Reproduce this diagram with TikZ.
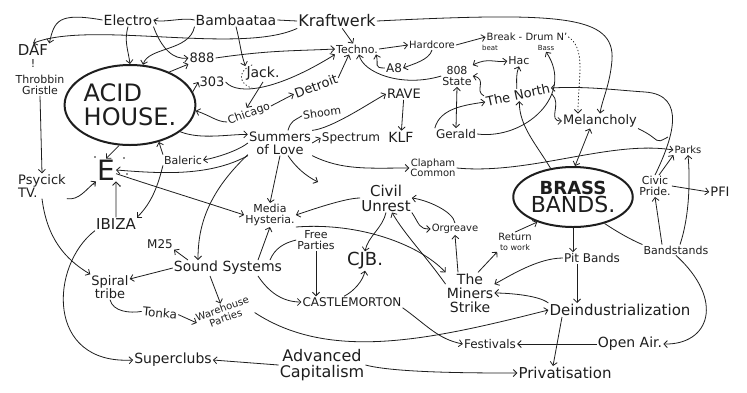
\documentclass[tikz,border=0pt]{standalone}
\usepackage{fontspec}
\setmainfont{DejaVu Sans}
\usetikzlibrary{arrows.meta,shapes.geometric}
\definecolor{ink}{HTML}{1E1E1E}
\begin{document}
\begin{tikzpicture}[x=1pt,y=-1pt,
 n/.style={inner sep=1pt,align=center,text=ink},
 fs/.style={font=\fontsize{#1}{#1}\selectfont},
 con/.style={draw=ink,line width=0.8pt},
 arr/.style={con,-{Straight Barb[length=3.5pt,width=7pt]}},
 darr/.style={con,{Straight Barb[length=3.5pt,width=7pt]}-{Straight Barb[length=3.5pt,width=7pt]}},
 dots/.style={dash pattern=on 0.8pt off 2.5pt,line cap=round},
 blob/.style={ellipse,draw=ink,line width=2pt,inner sep=0pt}]
\fill[white] (0,0) rectangle (747,392);
\useasboundingbox (0,0) rectangle (747,392);

% nodes
\node[n,fs=14] (electro) at (128,20) {Electro};
\node[n,fs=14] (bamb) at (236,20) {Bambaataa};
\node[n,fs=16] (kraft) at (337,21) {Kraftwerk};
\node[n,fs=15] (daf) at (33,50) {DAF};
\node[n,fs=11] (bang) at (33,63) {!};
\node[n,fs=11] (tg) at (40,85) {Throbbin\\Gristle};
\node[n,blob,align=left,fs=24,minimum width=130pt,minimum height=80pt] (acid) at (130,105) {ACID\\HOUSE.};
\node[n,fs=13] (e8) at (202,58) {888};
\node[n,fs=13] (e303) at (212,82) {303};
\node[n,fs=14] (jack) at (263,74) {Jack.};
\node[n,fs=11,rotate=20] (chicago) at (249,114) {Chicago};
\node[n,fs=13,rotate=20] (detroit) at (316,86) {Detroit};
\node[n,fs=11] (techno) at (357,49) {Techno.};
\node[n,fs=10] (hardcore) at (432,45) {Hardcore};
\node[n,fs=10] (breakl) at (527,37) {Break - Drum N'};
\node[n,fs=7] (beat) at (490,48) {beat};
\node[n,fs=7] (dnb) at (546,48) {Bass};
\node[n,fs=12] (a8) at (394,68) {A8};
\node[n,fs=11] (s808) at (457,76) {808\\State};
\node[n,fs=11] (hac) at (519,61) {Hac};
\node[n,fs=13,rotate=12] (north) at (518,95) {The North};
\node[n,fs=13] (rave) at (404,94) {RAVE};
\node[n,fs=14] (klf) at (401,137) {KLF};
\node[n,fs=12] (gerald) at (456,134) {Gerald};
\node[n,fs=11,rotate=8] (shoom) at (322,113) {Shoom};
\node[n,fs=13] (summers) at (280,143) {Summers\\of Love};
\node[n,fs=12] (spectrum) at (351,138) {Spectrum};
\node[n,fs=13] (melan) at (600,121) {Melancholy};
\node[n,fs=11] (balearic) at (183,160) {Baleric};
\node[n,fs=28] (E) at (106,170) {E};
\node[n,fs=13,align=left] (psy) at (42,186) {Psycick\\TV.};
\node[n,fs=15] (ibiza) at (116,224) {IBIZA};
\node[n,fs=12] (m25) at (160,244) {M25};
\node[n,fs=11] (media) at (270,215) {Media\\Hysteria.};
\node[n,fs=15] (civil) at (386,198) {Civil\\Unrest};
\node[n,fs=10] (clapham) at (433,168) {Clapham\\Common};
\node[n,fs=10] (orgreave) at (455,229) {Orgreave};
\node[n,blob,minimum width=107pt,minimum height=60pt] (brass) at (573,197) {{\fontsize{18}{18}\selectfont\bfseries BRASS}\\{\fontsize{22}{22}\selectfont BANDS.}};
\node[n,fs=10] (parks) at (688,150) {Parks};
\node[n,fs=11] (civic) at (655,186) {Civic\\Pride.};
\node[n,fs=13] (pfi) at (720,192) {PFI};
\node[n,fs=11] (bandst) at (676,250) {Bandstands};
\node[n,fs=12] (pit) at (592,258) {Pit Bands};
\node[n,fs=10] (ret) at (515,242) {Return\\{\fontsize{8}{8}\selectfont to work}};
\node[n,fs=11] (free) at (316,240) {Free\\Parties};
\node[n,fs=18] (cjb) at (365,261) {CJB.};
\node[n,fs=14] (sound) at (228,268) {Sound Systems};
\node[n,fs=13] (spiral) at (110,287) {Spiral\\tribe};
\node[n,fs=12,rotate=-5] (tonka) at (160,313) {Tonka};
\node[n,fs=10,rotate=20] (ware) at (224,313) {Warehouse\\Parties};
\node[n,fs=12] (castle) at (352,302) {CASTLEMORTON};
\node[n,fs=14] (miners) at (470,293) {The\\Miners\\Strike};
\node[n,fs=15] (deind) at (620,310) {Deindustrialization};
\node[n,fs=12] (fest) at (490,344) {Festivals};
\node[n,fs=14] (open) at (630,344) {Open Air.};
\node[n,fs=15] (priv) at (565,373) {Privatisation};
\node[n,fs=16] (adv) at (322,365) {Advanced\\Capitalism};
\node[n,fs=14] (super) at (173,360) {Superclubs};
\coordinate (sfree) at (318,182);
\coordinate (mj) at (668,137);

% decorations
\draw[ink,line width=0.8pt,dots] (252,65) .. controls (238,70) and (238,84) .. (252,88);
\foreach \p in {(95,157),(124,158),(127,174),(94,184),(120,186)} \fill[ink] \p circle (0.9);

% top connectors
\draw[arr] (electro.west) .. controls +(-45,-8) and +(5,-22) .. (daf.north east);
\draw[arr] (kraft.south west) .. controls (240,55) and (90,20) .. (daf.north);
\draw[arr] (kraft) -- (techno);
\draw[con] (kraft.west) -- (bamb.east);
\draw[arr] (bamb.west) .. controls +(-10,-3) and +(10,3) .. (electro.east);
\draw[arr] (kraft.east) .. controls (560,12) and (615,15) .. (612,60) .. controls (610,85) and (602,100) .. (melan.north);
\draw[arr] (electro.south) .. controls +(-4,15) and +(-2,-15) .. (acid.north);
\draw[arr] (electro.south east) .. controls +(8,22) and +(-15,2) .. (e8.west);
\draw[arr] (bamb.south west) .. controls +(-5,25) and +(5,-18) .. (acid.72);
\draw[arr] (bamb.south) .. controls +(5,20) and +(-5,-15) .. (jack.north west);
\draw[arr] (acid.40) -- (e8.south west);
\draw[arr] (acid.12) -- (e303.west);
\draw[arr] (e8.east) .. controls +(55,-8) and +(-40,2) .. (techno.west);
\draw[arr] (e303.east) .. controls (238,96) and (278,90) .. (techno.south west);
\draw[arr] (jack.south) -- (chicago.north);
\draw[arr] (chicago.west) .. controls +(-10,0) and +(15,5) .. (acid.-5);
\draw[arr] (chicago.east) -- (detroit.west);
\draw[arr] (detroit.east) -- ([xshift=-8pt]techno.south);
\draw[arr] (a8.west) .. controls +(-12,0) and +(3,10) .. ([xshift=-3pt]techno.south east);
\draw[arr] (hardcore.south) .. controls +(-3,10) and +(10,-4) .. (a8.east);
\draw[arr] (techno.east) -- (hardcore.west);
\draw[arr] (hardcore.east) -- (breakl.west);
\draw[arr] (s808.west) .. controls +(-40,12) and +(4,18) .. ([xshift=2pt]techno.south);
\draw[darr] (s808.north east) .. controls +(15,-8) and +(-12,2) .. (hac.west);
\draw[arr] (north.north west) .. controls +(-10,-5) and +(15,3) .. (s808.east);
\draw[arr] (north.north) .. controls +(0,-10) and +(-3,8) .. (hac.south);
\draw[darr] (s808.south) -- (gerald.north);
\draw[arr] (gerald.north west) .. controls +(5,-20) and +(-20,3) .. (north.west);
\draw[arr] (gerald.east) .. controls (525,140) and (575,95) .. (dnb.south);
\draw[arr,dots] (breakl.east) .. controls +(18,12) and +(0,-35) .. ([xshift=-22pt]melan.north);
\draw[arr] (north.south east) .. controls +(10,10) and +(-15,0) .. (melan.west);
\draw[arr] (brass.128) .. controls +(-15,-25) and +(0,25) .. (north.south);
\draw[darr] ([xshift=-10pt]melan.south) -- ([xshift=2pt]brass.north);
\draw[arr] (civic.north) .. controls (672,140) and (688,95) .. (645,92) .. controls (615,90) and (585,86) .. (north.east);
\draw[con] (melan.south east) .. controls +(25,12) and +(-15,8) .. (mj);

% middle
\draw[arr] (rave) -- (klf);
\draw[con] ([xshift=8pt]summers.north) .. controls +(3,-10) and +(-8,5) .. (shoom.west);
\draw[arr] (summers.north east) .. controls +(20,-2) and +(-15,8) .. (rave.west);
\draw[arr] (summers.east) -- (spectrum.west);
\draw[arr] (summers.south east) .. controls +(30,15) and +(-40,0) .. (clapham.west);
\draw[arr] (summers.south) -- (media.north);
\draw[arr] ([xshift=8pt]summers.south) .. controls +(8,12) and +(-12,-6) .. (sfree);
\draw[arr] (summers.west) .. controls +(-10,8) and +(12,-2) .. (balearic.east);
\draw[arr] (acid.-28) .. controls +(20,8) and +(-20,0) .. (summers.165);
\draw[arr] (balearic.north west) -- (acid.-52);
\draw[arr] (acid.-105) -- (E.north);
\draw[arr] (ibiza.north) -- (E.south east);
\draw[arr] (psy.south east) .. controls +(12,2) and +(-10,8) .. (E.south west);
\draw[arr] (tg.south) -- (psy.north);
\draw[arr] (summers.south west) .. controls +(-40,22) and +(40,3) .. (E.east);
\draw[arr] (E.-20) .. controls +(45,15) and +(-30,-10) .. (media.west);
\draw[arr] (balearic.south west) .. controls +(-5,20) and +(15,-15) .. (ibiza.north east);
\draw[arr] (summers.200) .. controls (205,195) and (198,230) .. ([xshift=-30pt]sound.north);
\draw[arr] (psy.south) .. controls +(5,40) and +(-25,-15) .. (spiral.north west);
\draw[arr] (ibiza.south west) .. controls (50,265) and (45,365) .. (super.west);
\draw[arr] ([xshift=-40pt]sound.north) -- (m25.south east);
\draw[arr] ([xshift=30pt]sound.north) -- (media.south);
\draw[con] ([xshift=42pt]sound.north) .. controls +(5,-12) and +(-12,3) .. (free.west);
\draw[arr] (sound.west) -- ([yshift=8pt]spiral.east);
\draw[arr] ([xshift=-18pt]sound.south) -- (ware.north);
\draw[arr] (tonka.east) -- (ware.west);
\draw[con] (spiral.south) .. controls +(3,12) and +(-12,2) .. (tonka.west);
\draw[arr] ([xshift=30pt]sound.south) .. controls +(10,15) and +(-20,0) .. (castle.west);
\draw[arr] (free.south) -- (free.south |- castle.north);
\draw[arr] ([xshift=-8pt]castle.north) .. controls +(10,-5) and +(-2,10) .. (cjb.south);
\draw[arr] (civil.south) .. controls +(-3,15) and +(3,-15) .. (cjb.north);
\draw[arr] (civil.west) .. controls +(-15,0) and +(15,-5) .. (media.east);
\draw[arr] (orgreave.north) .. controls +(-2,-12) and +(15,2) .. (civil.east);
\draw[arr] (civil.south east) .. controls +(8,12) and +(-12,0) .. (orgreave.west);
\draw[arr] (media.south east) .. controls (360,222) and (420,245) .. (miners.north west);
\draw[arr] (miners.160) .. controls (425,255) and (405,235) .. ([xshift=6pt]civil.south);
\draw[arr] ([xshift=-12pt]miners.north) -- (orgreave.south);
\draw[arr] ([xshift=8pt]miners.north) -- (ret.south west);
\draw[arr] (ret.north) -- (brass.-145);
\draw[arr] (brass.south) -- (brass.south |- pit.north);
\draw[arr] (pit.west) .. controls +(-25,0) and +(15,-8) .. (miners.20);
\draw[arr] ([xshift=-15pt]pit.south) -- ([xshift=-43pt]deind.north);
\draw[con] (brass.-40) .. controls +(12,8) and +(-12,-5) .. (bandst.north west);
\draw[arr] ([xshift=-14pt]bandst.north) -- (civic.south);
\draw[arr] ([xshift=4pt]bandst.north) .. controls +(10,-30) and +(2,22) .. (parks.south);
\draw[arr] ([xshift=4pt]civic.north) -- (parks.south west);
\draw[arr] (civic.east) -- (pfi.west);
\draw[arr] (bandst.south) .. controls (725,300) and (710,345) .. (open.east);
\draw[arr] (clapham.east) .. controls (530,175) and (610,140) .. (parks.west);

% bottom
\draw[arr] (castle.south east) .. controls +(25,18) and +(-25,-5) .. (fest.west);
\draw[arr] (ware.south east) .. controls (330,362) and (430,340) .. (deind.west);
\draw[arr] (deind.north west) .. controls +(-10,-8) and +(12,0) .. (miners.east);
\draw[arr] ([xshift=-58pt]deind.south) -- ([xshift=-12pt]priv.north);
\draw[arr] (open.west) -- (fest.east);
\draw[arr] (adv.west) -- (super.east);
\draw[arr] (adv.east) .. controls +(30,8) and +(-40,0) .. (priv.west);
\end{tikzpicture}
\end{document}
